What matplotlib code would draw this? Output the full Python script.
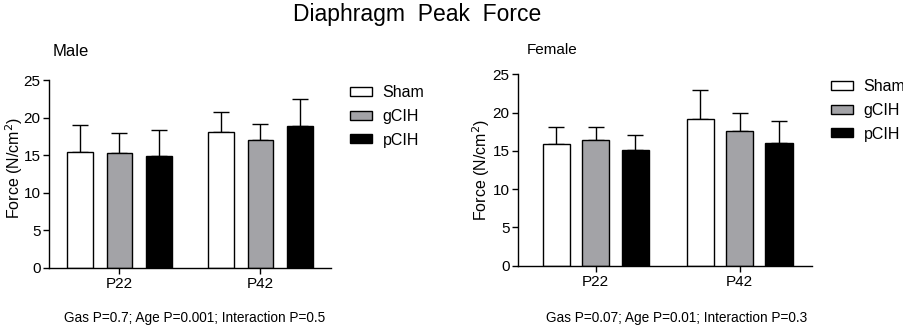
import matplotlib
matplotlib.use("Agg")
import matplotlib.pyplot as plt
from matplotlib.patches import Patch
import numpy as np

plt.rcParams['font.family'] = ['Liberation Sans', 'DejaVu Sans']

ages = ["P22", "P42"]
groups = ["Sham", "gCIH", "pCIH"]
male_mean = {"Sham": [15.4, 18.1], "gCIH": [15.3, 17.0], "pCIH": [14.9, 18.9]}
male_err = {"Sham": [3.6, 2.6], "gCIH": [2.6, 2.2], "pCIH": [3.5, 3.6]}
female_mean = {"Sham": [15.9, 19.2], "gCIH": [16.4, 17.6], "pCIH": [15.15, 16.0]}
female_err = {"Sham": [2.2, 3.7], "gCIH": [1.7, 2.3], "pCIH": [1.95, 2.9]}
colors = {"Sham": "white", "gCIH": "#a3a3a7", "pCIH": "black"}
stats_male = "Gas P=0.7; Age P=0.001; Interaction P=0.5"
stats_female = "Gas P=0.07; Age P=0.01; Interaction P=0.3"

W, H = 904, 328
fig = plt.figure(figsize=(W/100, H/100), dpi=100)
axL = fig.add_axes([49/W, 1-267.7/H, 282/W, 187.7/H])
axR = fig.add_axes([518/W, 1-265.7/H, 293.7/W, 191.4/H])

def draw(ax, means, errs, xlim, off, w, leg_xy, lab_xy):
    x = np.arange(len(ages))
    for i, g in enumerate(groups):
        pos = x + (i-1)*off
        ax.bar(pos, means[g], width=w, color=colors[g], edgecolor="black", linewidth=1.0, zorder=2)
        ax.errorbar(pos, means[g], yerr=[np.zeros(len(ages)), errs[g]], fmt="none",
                    ecolor="black", elinewidth=1.0, capsize=6, capthick=1.0, zorder=1)
    ax.set_xlim(*xlim)
    ax.set_ylim(0, 25)
    ax.set_yticks([0, 5, 10, 15, 20, 25])
    ax.set_xticks(x)
    ax.set_xticklabels(ages, fontsize=11)
    ax.tick_params(axis='y', labelsize=11, length=4, width=1, pad=2)
    ax.tick_params(axis='x', length=4, width=1, pad=3)
    for s in ["top", "right"]:
        ax.spines[s].set_visible(False)
    for s in ["left", "bottom"]:
        ax.spines[s].set_linewidth(1.0)
    ax.set_ylabel("Force (N/cm$^2$)", fontsize=11.5, va="center")
    ax.yaxis.set_label_coords(*lab_xy)
    handles = [Patch(facecolor=colors[g], edgecolor="black", linewidth=1.0, label=g) for g in groups]
    fig.legend(handles=handles, loc="upper left",
               bbox_to_anchor=(leg_xy[0]/W, 1-leg_xy[1]/H), bbox_transform=fig.transFigure,
               frameon=False, borderpad=0, borderaxespad=0,
               fontsize=11.5, handlelength=1.35, handleheight=0.5, handletextpad=0.7,
               labelspacing=0.55)

draw(axL, male_mean, male_err, (-0.5, 1.5), 0.277, 0.184, (350, 85), (-0.125, 0.53))
draw(axR, female_mean, female_err, (-0.54, 1.5), 0.274, 0.19, (831, 79), (-0.127, 0.5))

fig.text(417/W, 1-14/H, "Diaphragm  Peak  Force", ha="center", va="center", fontsize=16.5)
fig.text(53/W, 1-52/H, "Male", ha="left", va="center", fontsize=12)
fig.text(527/W, 1-50/H, "Female", ha="left", va="center", fontsize=11)
fig.text(195/W, 1-318/H, stats_male, ha="center", va="center", fontsize=9.8)
fig.text(677/W, 1-318/H, stats_female, ha="center", va="center", fontsize=9.8)

fig.savefig("out.png", dpi=100)
